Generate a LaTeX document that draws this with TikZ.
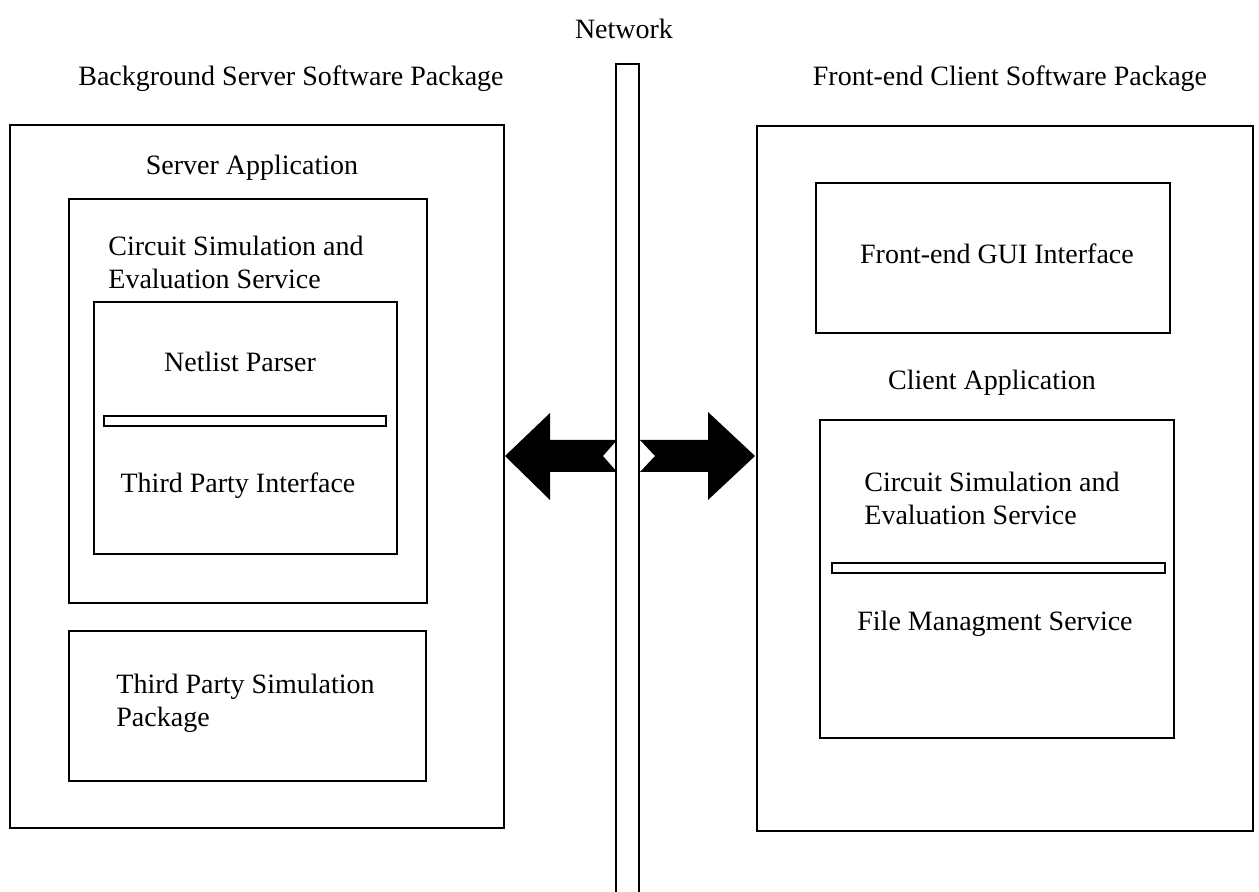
\documentclass[tikz,border=0pt]{standalone}
\usepackage{fontspec}
\setmainfont{Liberation Serif}
\begin{document}
\begin{tikzpicture}[x=0.5pt,y=-0.5pt,
  box/.style={draw, line width=1.4pt, inner sep=0pt, outer sep=0pt},
  thinbar/.style={draw, line width=1pt, inner sep=0pt, outer sep=0pt},
  lbl/.style={inner sep=0pt, font=\fontsize{14}{16.5}\selectfont},
  lbll/.style={lbl, align=left, anchor=west},
  bigarrow/.style={fill=black, draw=none}]
\useasboundingbox (0,0) rectangle (1259,892);
% left package
\node[box, minimum width=247pt, minimum height=351.5pt] (outerL) at (257,476.5) {};
\node[box, minimum width=179pt, minimum height=202pt] (servapp) at (248,401) {};
\node[box, minimum width=151.5pt, minimum height=126pt] (inner) at (245.5,428) {};
\node[thinbar, minimum width=141pt, minimum height=5pt] (barL) at (245,421) {};
\node[box, minimum width=178.5pt, minimum height=75pt] (tpsp) at (247.5,706) {};
% right package
\node[box, minimum width=248pt, minimum height=352.5pt] (outerR) at (1005,478.5) {};
\node[box, minimum width=177pt, minimum height=75pt] (gui) at (993,258) {};
\node[box, minimum width=177pt, minimum height=159pt] (capp) at (997,579) {};
\node[thinbar, minimum width=166.5pt, minimum height=5pt] (barR) at (998.5,568) {};
% network bar
\node[inner sep=0pt, outer sep=0pt, minimum width=11.5pt, minimum height=414pt] (net) at (627.5,478) {};
\draw[line width=1.4pt] (net.south west) -- (net.north west) -- (net.north east) -- (net.south east);
% arrows
\fill[bigarrow] (505,456) -- (550,413) -- (550,440) -- (617,440) -- (603,456) -- (617,472) -- (550,472) -- (550,500) -- cycle;
\fill[bigarrow] (640,440) -- (708,440) -- (708,412) -- (755,456) -- (708,500) -- (708,472) -- (640,472) -- (655,456) -- cycle;
% labels
\node[lbl] (tnet) at (624,29) {Network};
\node[lbl] (tbsp) at (291,79) {Background Server Software Package};
\node[lbl] (tfcsp) at (1010,79) {Front-end Client Software Package};
\node[lbl] (tsa) at (252,168) {Server Application};
\node[lbll] (tcse) at (108,262) {Circuit Simulation and\\Evaluation Service};
\node[lbl] (tnp) at (240,362) {Netlist Parser};
\node[lbl] (ttpi) at (238,486) {Third Party Interface};
\node[lbll] (ttpsp) at (116,703) {Third Party Simulation\\Package};
\node[lbl] (tgui) at (997,254) {Front-end GUI Interface};
\node[lbl] (tca) at (992,383) {Client Application};
\node[lbll] (tcse2) at (864,498) {Circuit Simulation and\\Evaluation Service};
\node[lbl] (tfms) at (995,624) {File Managment Service};
\end{tikzpicture}
\end{document}
